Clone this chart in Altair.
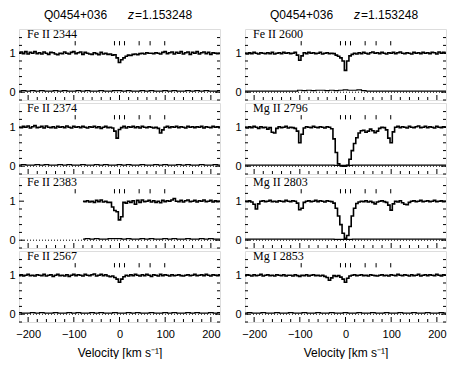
import altair as alt
import pandas as pd

TITLE_OBJ = "Q0454+036"
TITLE_Z = "z"
TITLE_ZVAL = "=1.153248"
X_TITLE = "Velocity [km s\u207b\u00b9]"

VEL = [-220, -215, -210, -205, -200, -195, -190, -185, -180, -175,
       -170, -165, -160, -155, -150, -145, -140, -135, -130, -125,
       -120, -115, -110, -105, -100, -95, -90, -85, -80, -75,
       -70, -65, -60, -55, -50, -45, -40, -35, -30, -25,
       -20, -15, -10, -5, 0, 5, 10, 15, 20, 25,
       30, 35, 40, 45, 50, 55, 60, 65, 70, 75,
       80, 85, 90, 95, 100, 105, 110, 115, 120, 125,
       130, 135, 140, 145, 150, 155, 160, 165, 170, 175,
       180, 185, 190, 195, 200, 205, 210, 215, 220]

VEL_ERR = [-220, -210, -200, -190, -180, -170, -160, -150, -140, -130,
           -120, -110, -100, -90, -80, -70, -60, -50, -40, -30,
           -20, -10, 0, 10, 20, 30, 40, 50, 60, 70,
           80, 90, 100, 110, 120, 130, 140, 150, 160, 170,
           180, 190, 200, 210, 220]

COMPONENTS = [-97, -11, 0, 11, 43, 67, 99]
X_LABELS = [-200, -100, 0, 100, 200]
X_MINOR = [-180, -160, -140, -120, -80, -60, -40, -20, 20, 40, 60, 80,
           120, 140, 160, 180]
Y_LABELS = [0, 1]
Y_MINOR = [-0.2, 0.2, 0.4, 0.6, 0.8, 1.2, 1.4]

N = None

# ---------------- left column ----------------
FE2344 = [1.00, 1.03, 0.99, 1.04, 0.98, 1.02, 1.00, 1.04, 0.99, 1.01,
          0.98, 1.03, 1.00, 0.97, 1.02, 1.01, 0.98, 0.96, 1.00, 0.99,
          1.03, 1.00, 0.98, 1.02, 1.04, 0.99, 1.01, 1.03, 0.97, 1.02,
          1.00, 0.98, 0.97, 1.01, 0.99, 0.96, 1.02, 0.98, 1.00, 0.97,
          0.98, 0.95, 0.96, 0.88, 0.76, 0.83, 0.88, 0.92, 0.95, 0.94,
          0.97, 0.98, 0.96, 0.99, 1.00, 0.98, 1.01, 1.00, 1.00, 0.99,
          1.01, 1.00, 0.98, 1.02, 1.04, 0.99, 1.01, 1.03, 0.98, 1.02,
          1.00, 1.04, 0.98, 1.01, 1.03, 0.97, 1.02, 1.00, 1.04, 0.98,
          1.01, 1.03, 0.99, 1.02, 0.97, 1.01, 1.00, 0.99, 1.00]
FE2374 = [1.00, 0.99, 1.02, 1.00, 1.03, 0.98, 1.01, 1.04, 0.99, 1.00,
          1.02, 0.98, 1.03, 1.00, 0.99, 1.01, 0.98, 1.02, 1.00, 1.01,
          0.99, 1.03, 1.00, 0.98, 1.02, 1.00, 1.01, 0.99, 1.02, 1.00,
          0.98, 1.01, 1.00, 1.02, 0.99, 1.01, 0.97, 1.00, 1.02, 0.99,
          1.00, 0.98, 0.90, 0.72, 0.94, 0.99, 1.02, 0.98, 1.01, 1.00,
          1.02, 0.99, 1.01, 0.98, 1.02, 1.00, 0.99, 1.01, 1.00, 0.98,
          1.00, 0.97, 0.85, 0.93, 1.00, 1.02, 0.99, 1.01, 1.00, 1.02,
          0.99, 1.01, 1.00, 0.98, 1.02, 1.00, 1.01, 0.99, 1.01, 1.00,
          1.02, 0.98, 1.01, 1.00, 0.99, 1.02, 1.00, 1.01, 0.99]
FE2383 = [N, N, N, N, N, N, N, N, N, N,
          N, N, N, N, N, N, N, N, N, N,
          N, N, N, N, N, N, N, N, 1.00, 0.99,
          1.01, 0.98, 1.00, 0.97, 1.02, 0.99, 1.03, 0.98, 1.00, 0.97,
          0.97, 0.85, 0.76, 0.73, 0.52, 0.60, 0.97, 0.95, 1.00, 0.97,
          1.01, 0.92, 1.02, 0.97, 1.03, 0.99, 1.00, 1.02, 0.98, 1.01,
          0.97, 1.00, 0.96, 1.02, 0.99, 1.01, 1.00, 1.03, 1.07, 1.00,
          0.99, 1.02, 0.98, 1.01, 1.03, 0.99, 1.00, 1.02, 0.98, 1.01,
          1.00, 1.03, 0.99, 1.00, 1.02, 0.98, 1.01, 0.99, 1.00]
FE2567 = [0.99, 1.01, 0.98, 1.00, 1.02, 0.99, 1.00, 0.98, 1.01, 1.00,
          0.99, 1.02, 0.98, 1.00, 1.01, 0.97, 1.00, 1.02, 0.99, 1.00,
          0.98, 1.01, 0.97, 1.00, 1.02, 0.99, 1.01, 1.00, 0.98, 1.02,
          1.00, 0.99, 1.01, 1.03, 0.98, 1.00, 1.02, 0.99, 1.01, 0.98,
          0.96, 0.98, 0.94, 0.90, 0.82, 0.90, 0.96, 1.00, 0.98, 1.01,
          0.99, 1.02, 1.00, 0.98, 1.01, 0.99, 1.02, 1.00, 0.97, 1.01,
          1.00, 0.98, 1.02, 0.99, 1.01, 1.00, 0.98, 1.01, 0.99, 1.00,
          1.01, 0.99, 0.98, 1.00, 1.01, 0.99, 1.00, 1.02, 0.99, 1.00,
          1.01, 0.99, 1.02, 1.00, 0.98, 1.01, 1.00, 0.99, 1.01]

# ---------------- right column ----------------
FE2600 = [1.00, 0.98, 1.01, 0.99, 1.02, 1.00, 0.98, 1.01, 1.00, 0.99,
          1.01, 0.99, 1.02, 0.98, 1.00, 1.01, 0.99, 1.02, 1.00, 1.01,
          0.99, 1.00, 1.02, 0.95, 0.82, 0.93, 1.01, 0.99, 1.02, 1.00,
          1.01, 0.99, 1.00, 1.02, 0.98, 1.00, 1.01, 0.99, 1.00, 0.99,
          0.95, 0.92, 0.88, 0.80, 0.56, 0.80, 0.93, 0.97, 1.00, 0.98,
          1.01, 0.99, 1.02, 1.00, 0.98, 1.01, 1.03, 1.00, 1.01, 0.99,
          1.02, 1.00, 0.98, 1.01, 1.00, 1.02, 0.99, 1.01, 1.03, 1.00,
          0.99, 1.01, 1.00, 0.98, 1.02, 1.00, 1.01, 0.99, 1.02, 1.00,
          1.01, 0.99, 1.02, 1.01, 0.98, 1.03, 1.00, 1.02, 1.00]
MG2796 = [1.00, 0.98, 1.01, 0.99, 1.02, 1.00, 0.97, 1.01, 0.99, 1.00,
          0.95, 0.99, 0.87, 0.85, 0.97, 1.01, 0.99, 1.00, 1.02, 0.98,
          1.00, 0.99, 0.97, 0.90, 0.60, 0.82, 0.98, 1.01, 1.00, 0.99,
          1.02, 1.00, 0.99, 1.01, 1.00, 0.98, 1.01, 1.00, 0.96, 0.70,
          0.35, 0.06, 0.01, 0.00, 0.00, 0.02, 0.18, 0.40, 0.58, 0.73,
          0.85, 0.91, 0.92, 0.87, 0.90, 0.95, 0.91, 0.86, 0.90, 0.97,
          1.00, 0.99, 0.93, 0.72, 0.60, 0.88, 1.00, 1.02, 0.99, 1.01,
          1.00, 0.98, 1.02, 1.00, 0.99, 1.01, 1.03, 0.99, 1.00, 1.02,
          0.99, 1.01, 1.00, 0.98, 1.02, 1.00, 0.99, 1.01, 1.00]
MG2803 = [1.00, 0.99, 1.01, 0.98, 0.92, 0.80, 0.93, 1.00, 1.01, 0.99,
          1.00, 1.02, 0.99, 1.00, 0.98, 1.01, 1.00, 0.99, 1.02, 1.00,
          0.99, 1.01, 1.00, 0.95, 0.78, 0.82, 0.97, 1.00, 1.01, 0.99,
          1.00, 1.02, 0.99, 1.01, 1.00, 0.98, 1.01, 1.00, 0.99, 0.95,
          0.82, 0.62, 0.40, 0.18, 0.05, 0.12, 0.35, 0.62, 0.82, 0.94,
          0.98, 1.00, 0.99, 1.01, 0.98, 1.00, 0.97, 0.93, 0.98, 1.00,
          1.01, 0.99, 0.97, 0.90, 0.77, 0.93, 1.00, 0.98, 1.01, 0.96,
          0.92, 0.91, 0.97, 1.00, 1.01, 0.99, 1.00, 1.02, 0.99, 1.00,
          1.01, 0.99, 1.00, 1.02, 0.99, 1.00, 1.01, 0.99, 1.00]
MG2853 = [0.99, 1.01, 1.00, 0.98, 1.01, 0.99, 1.00, 1.02, 0.98, 1.00,
          1.01, 0.99, 1.00, 0.98, 1.01, 1.00, 0.99, 1.01, 0.98, 1.00,
          1.00, 0.98, 1.01, 0.99, 0.97, 1.00, 0.99, 1.01, 0.98, 1.00,
          1.01, 0.99, 1.00, 0.98, 1.00, 0.97, 0.94, 0.87, 0.93, 0.99,
          0.97, 0.99, 0.95, 0.90, 0.82, 0.92, 0.98, 1.00, 1.01, 0.99,
          1.00, 1.01, 0.99, 1.00, 0.98, 1.01, 1.00, 0.99, 0.98, 1.00,
          1.01, 0.99, 1.00, 0.98, 1.01, 1.00, 0.99, 1.02, 1.00, 0.99,
          1.01, 1.00, 0.98, 1.01, 0.99, 1.00, 1.02, 0.98, 1.00, 1.01,
          0.99, 1.01, 1.00, 0.99, 1.02, 1.00, 0.98, 1.01, 1.00]

# ---------------- error spectra (10 km/s grid) ----------------
ERR_2344 = [0.03, 0.04, 0.03, 0.04, 0.03, 0.04, 0.03, 0.03, 0.04, 0.03,
            0.04, 0.03, 0.03, 0.04, 0.03, 0.04, 0.03, 0.03, 0.04, 0.03,
            0.03, 0.04, 0.04, 0.03, 0.04, 0.03, 0.03, 0.04, 0.03, 0.04,
            0.03, 0.03, 0.04, 0.03, 0.04, 0.03, 0.03, 0.04, 0.03, 0.04,
            0.03, 0.04, 0.03, 0.03, 0.04]
ERR_2374 = [0.03, 0.04, 0.03, 0.03, 0.04, 0.03, 0.04, 0.03, 0.03, 0.04,
            0.03, 0.04, 0.03, 0.03, 0.04, 0.03, 0.03, 0.04, 0.03, 0.04,
            0.03, 0.03, 0.04, 0.03, 0.04, 0.03, 0.03, 0.04, 0.03, 0.03,
            0.04, 0.03, 0.04, 0.03, 0.03, 0.04, 0.03, 0.04, 0.03, 0.03,
            0.04, 0.03, 0.03, 0.04, 0.03]
ERR_2383 = [N, N, N, N, N, N, N, N, N, N,
            N, N, N, N, 0.03, 0.04, 0.03, 0.04, 0.03, 0.03,
            0.04, 0.04, 0.04, 0.03, 0.04, 0.03, 0.03, 0.04, 0.03, 0.04,
            0.03, 0.03, 0.04, 0.03, 0.04, 0.03, 0.03, 0.04, 0.03, 0.03,
            0.04, 0.03, 0.04, 0.03, 0.03]
ERR_2567 = [0.04, 0.03, 0.03, 0.04, 0.03, 0.04, 0.03, 0.03, 0.04, 0.03,
            0.03, 0.04, 0.03, 0.04, 0.03, 0.03, 0.04, 0.03, 0.04, 0.03,
            0.03, 0.04, 0.03, 0.03, 0.04, 0.03, 0.04, 0.03, 0.03, 0.04,
            0.03, 0.03, 0.04, 0.03, 0.04, 0.03, 0.03, 0.04, 0.03, 0.04,
            0.03, 0.03, 0.04, 0.03, 0.04]
ERR_2600 = [0.03, 0.03, 0.03, 0.03, 0.03, 0.03, 0.03, 0.03, 0.03, 0.03,
            0.03, 0.03, 0.05, 0.04, 0.05, 0.04, 0.05, 0.05, 0.04, 0.05,
            0.04, 0.05, 0.06, 0.05, 0.05, 0.06, 0.04, 0.03, 0.03, 0.03,
            0.03, 0.03, 0.03, 0.03, 0.03, 0.03, 0.03, 0.03, 0.03, 0.03,
            0.03, 0.03, 0.03, 0.03, 0.03]
ERR_2796 = [0.03, 0.03, 0.03, 0.03, 0.03, 0.03, 0.03, 0.03, 0.03, 0.03,
            0.03, 0.03, 0.03, 0.03, 0.03, 0.03, 0.03, 0.03, 0.03, 0.03,
            0.02, 0.02, 0.02, 0.02, 0.03, 0.03, 0.03, 0.03, 0.03, 0.03,
            0.03, 0.03, 0.03, 0.03, 0.03, 0.03, 0.03, 0.03, 0.03, 0.03,
            0.03, 0.03, 0.03, 0.03, 0.03]
ERR_2803 = [0.03, 0.03, 0.03, 0.03, 0.03, 0.03, 0.03, 0.03, 0.03, 0.03,
            0.03, 0.03, 0.03, 0.03, 0.03, 0.03, 0.03, 0.03, 0.03, 0.03,
            0.02, 0.02, 0.02, 0.02, 0.03, 0.03, 0.03, 0.03, 0.03, 0.03,
            0.03, 0.03, 0.03, 0.03, 0.03, 0.03, 0.03, 0.03, 0.03, 0.03,
            0.03, 0.03, 0.03, 0.03, 0.03]
ERR_2853 = [0.03, 0.04, 0.03, 0.03, 0.04, 0.03, 0.03, 0.04, 0.03, 0.03,
            0.04, 0.03, 0.03, 0.04, 0.03, 0.03, 0.04, 0.03, 0.03, 0.04,
            0.03, 0.03, 0.04, 0.03, 0.03, 0.04, 0.03, 0.03, 0.04, 0.03,
            0.03, 0.04, 0.03, 0.03, 0.04, 0.03, 0.03, 0.04, 0.03, 0.03,
            0.04, 0.03, 0.03, 0.04, 0.03]

LEFT = [("Fe II 2344", FE2344, ERR_2344), ("Fe II 2374", FE2374, ERR_2374),
        ("Fe II 2383", FE2383, ERR_2383), ("Fe II 2567", FE2567, ERR_2567)]
RIGHT = [("Fe II 2600", FE2600, ERR_2600), ("Mg II 2796", MG2796, ERR_2796),
         ("Mg II 2803", MG2803, ERR_2803), ("Mg I 2853", MG2853, ERR_2853)]

W, H = 201, 71
SANS = "Liberation Sans"
SERIF = "Liberation Serif"
XS = alt.Scale(domain=[-220, 220], nice=False, zero=False)
YS = alt.Scale(domain=[-0.2, 1.62], nice=False, zero=False)


def panel(label, flux, err, top, bottom):
    if bottom:
        xaxis = alt.Axis(values=X_LABELS, ticks=False, domain=False, grid=False,
                         labelFont=SANS, labelFontSize=11, labelColor="black",
                         labelPadding=6, title=X_TITLE, titleFont=SANS,
                         titleFontSize=12, titleFontWeight="normal",
                         titleColor="black", titlePadding=8)
    else:
        xaxis = None
    yaxis = alt.Axis(values=Y_LABELS, ticks=False, domain=False, grid=False,
                     labelFont=SANS, labelFontSize=11, labelColor="black",
                     labelPadding=4, title=None)
    X = alt.X("v:Q", scale=XS, axis=xaxis, title=None)
    Y = alt.Y("y:Q", scale=YS, axis=yaxis, title=None)
    Y2 = alt.Y2("y2:Q")

    dflux = pd.DataFrame({"v": VEL, "y": flux}).dropna()
    derr = pd.DataFrame({"v": VEL_ERR, "y": err}).dropna()
    one = pd.DataFrame({"y": [0]})
    comp = pd.DataFrame({"v": COMPONENTS})
    xmaj = pd.DataFrame({"v": X_LABELS})
    xmin = pd.DataFrame({"v": X_MINOR})
    ymaj = pd.DataFrame({"y": Y_LABELS})
    ymin = pd.DataFrame({"y": Y_MINOR})

    zero = alt.Chart(one).mark_rule(color="black", strokeWidth=1,
                                    strokeDash=[1, 2]).encode(y=Y)
    errl = alt.Chart(derr).mark_line(interpolate="step", color="black",
                                     strokeWidth=1.2, clip=True).encode(x=X, y=Y)
    flx = alt.Chart(dflux).mark_line(interpolate="step", color="black",
                                     strokeWidth=1.6, clip=True).encode(x=X, y=Y)
    comps = alt.Chart(comp).transform_calculate(
        y="1.2", y2="1.31"
    ).mark_rule(color="black", strokeWidth=1).encode(x=X, y=Y, y2=Y2)
    t_bmaj = alt.Chart(xmaj).mark_rule(color="black").encode(
        x=X, y=alt.value(H), y2=alt.value(H - 5))
    t_bmin = alt.Chart(xmin).mark_rule(color="black").encode(
        x=X, y=alt.value(H), y2=alt.value(H - 3))
    t_lmaj = alt.Chart(ymaj).mark_rule(color="black").encode(
        y=Y, x=alt.value(0), x2=alt.value(5))
    t_lmin = alt.Chart(ymin).mark_rule(color="black").encode(
        y=Y, x=alt.value(0), x2=alt.value(3))
    t_rmaj = alt.Chart(ymaj).mark_rule(color="black").encode(
        y=Y, x=alt.value(W), x2=alt.value(W - 5))
    t_rmin = alt.Chart(ymin).mark_rule(color="black").encode(
        y=Y, x=alt.value(W), x2=alt.value(W - 3))
    txt = alt.Chart(one).mark_text(align="left", baseline="alphabetic",
                                   font=SERIF, fontSize=12, color="black").encode(
        x=alt.value(8), y=alt.value(9), text=alt.value(label))
    layers = [flx, zero, errl, comps, t_bmaj, t_bmin, t_lmaj, t_lmin,
              t_rmaj, t_rmin, txt]
    if top:
        head = dict(baseline="middle", font=SANS, fontSize=12, color="black",
                    align="left")
        layers += [
            alt.Chart(one).mark_text(**head).encode(
                x=alt.value(25), y=alt.value(-14), text=alt.value(TITLE_OBJ)),
            alt.Chart(one).mark_text(fontStyle="italic", **head).encode(
                x=alt.value(109), y=alt.value(-14), text=alt.value(TITLE_Z)),
            alt.Chart(one).mark_text(**head).encode(
                x=alt.value(116), y=alt.value(-14), text=alt.value(TITLE_ZVAL)),
        ]
    return alt.layer(*layers).properties(width=W, height=H)


def column(specs):
    panels = [panel(lbl, f, e, i == 0, i == len(specs) - 1)
              for i, (lbl, f, e) in enumerate(specs)]
    return alt.vconcat(*panels, spacing=0)


chart = alt.hconcat(column(LEFT), column(RIGHT), spacing=13).properties(
    padding={"left": 0, "top": 0, "right": 0, "bottom": 0}
).configure_view(stroke="black", strokeWidth=1).configure(background="white")

chart.save("out.html", embed_options={"renderer": "svg", "actions": False})
